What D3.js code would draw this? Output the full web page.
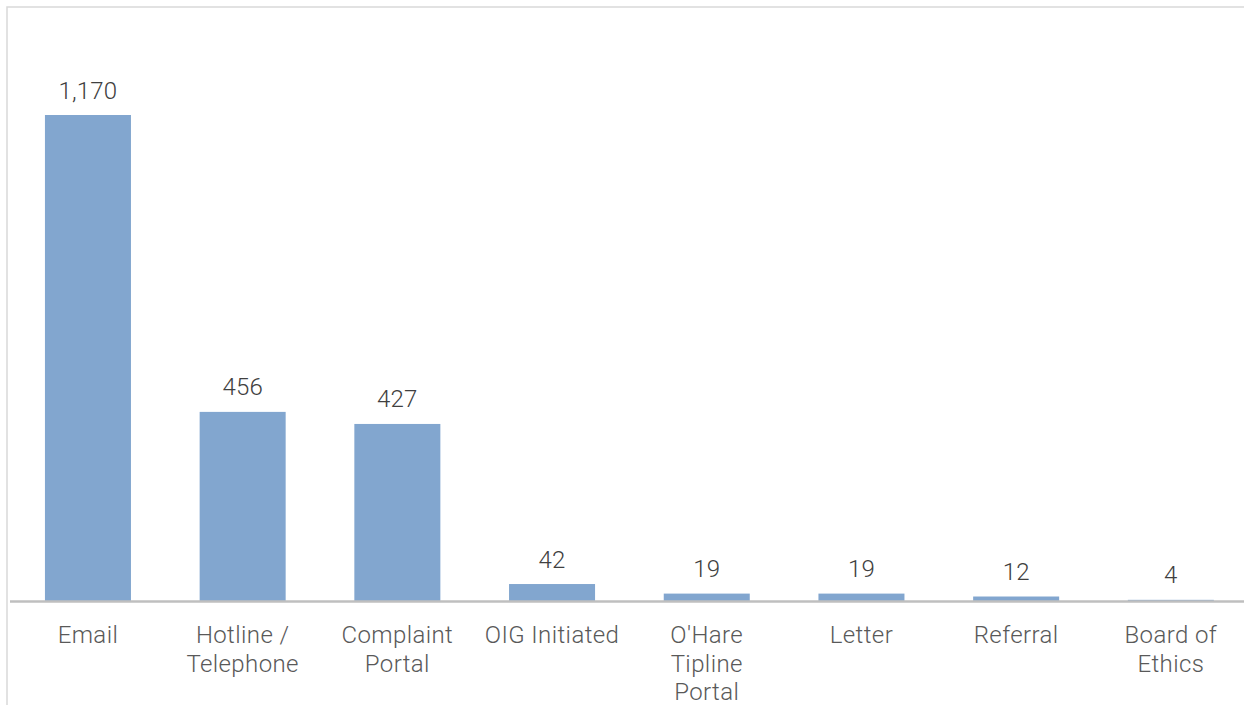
<!DOCTYPE html>
<html>
<head>
<meta charset="utf-8">
<script src="https://cdn.jsdelivr.net/npm/d3@7"></script>
<style>
  html, body { margin: 0; padding: 0; background: #fff; }
  svg { display: block; }
</style>
</head>
<body>
<svg id="chart" width="1244" height="705"></svg>
<script>
// Data
const categories = ["Email", "Hotline / Telephone", "Complaint Portal", "OIG Initiated", "O'Hare Tipline Portal", "Letter", "Referral", "Board of Ethics"];
const labelLines = [["Email"], ["Hotline /", "Telephone"], ["Complaint", "Portal"], ["OIG Initiated"], ["O'Hare", "Tipline", "Portal"], ["Letter"], ["Referral"], ["Board of", "Ethics"]];
const values = [1170, 456, 427, 42, 19, 19, 12, 4];

const svg = d3.select("#chart");
const W = 1244, H = 705;

// outer frame (cropped at right/bottom)
svg.append("rect")
  .attr("x", 7).attr("y", 7)
  .attr("width", 1400).attr("height", 900)
  .attr("fill", "none")
  .attr("stroke", "#d9d9d9")
  .attr("stroke-width", 1.5);

const x = d3.scaleBand()
  .domain(categories)
  .range([10.6, 10.6 + 8 * 154.7])
  .paddingInner(0.444)
  .paddingOuter(0.222);

const y = d3.scaleLinear()
  .domain([0, 1170])
  .range([601.5, 115]);

const fmt = d3.format(",");
const font = "Roboto, 'Liberation Sans', Arial, sans-serif";

svg.append("g").selectAll("rect")
  .data(values)
  .join("rect")
  .attr("x", (d, i) => x(categories[i]))
  .attr("y", d => y(d))
  .attr("width", x.bandwidth())
  .attr("height", d => y(0) - y(d))
  .attr("fill", "#82a6cf");

// baseline axis
const axis = d3.axisBottom(x).tickSize(0).tickFormat("");
const gAxis = svg.append("g").attr("transform", `translate(0,${y(0)})`).call(axis);
gAxis.select(".domain").remove();
gAxis.append("line")
  .attr("x1", 10).attr("x2", W)
  .attr("y1", 0).attr("y2", 0)
  .attr("stroke", "#bfbfbf")
  .attr("stroke-width", 2.5);

// value labels
svg.append("g").selectAll("text")
  .data(values)
  .join("text")
  .attr("x", (d, i) => x(categories[i]) + x.bandwidth() / 2)
  .attr("y", d => y(d) - 16.5)
  .attr("text-anchor", "middle")
  .attr("font-family", font)
  .attr("font-weight", 300)
  .attr("font-size", 24)
  .attr("letter-spacing", 0.2)
  .attr("fill", "#404040")
  .text(d => fmt(d));

// category labels
const cat = svg.append("g").selectAll("text")
  .data(categories)
  .join("text")
  .attr("x", d => x(d) + x.bandwidth() / 2)
  .attr("y", 643)
  .attr("text-anchor", "middle")
  .attr("font-family", font)
  .attr("font-weight", 300)
  .attr("font-size", 24)
  .attr("letter-spacing", 0.4)
  .attr("fill", "#595959");
cat.each(function(d, i) {
  const t = d3.select(this);
  labelLines[i].forEach((ln, j) => {
    t.append("tspan")
      .attr("x", x(d) + x.bandwidth() / 2)
      .attr("dy", j === 0 ? 0 : 28.5)
      .text(ln);
  });
});
</script>
</body>
</html>
